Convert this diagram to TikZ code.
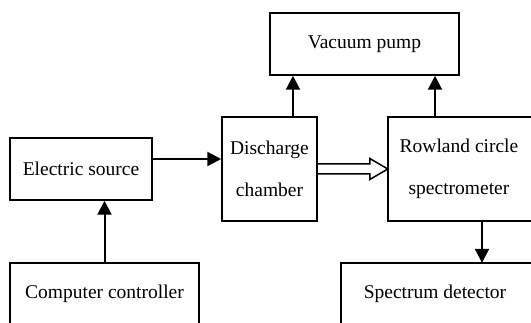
\documentclass[tikz,border=0pt]{standalone}
\usepackage{fontspec}
\setmainfont{Liberation Serif}
\usetikzlibrary{arrows.meta,calc}
\tikzset{
  box/.style={draw, line width=1.5pt, inner sep=0pt, align=center,
    font=\fontsize{19.5}{42}\selectfont},
  lbl/.style={inner sep=0pt, align=center, font=\fontsize{19.5}{42}\selectfont},
  frame/.style={line width=1.5pt},
  arr/.style={line width=2pt, -{Triangle[length=14pt,width=14pt]}},
}
\begin{document}
\begin{tikzpicture}[x=1pt,y=-1pt]
\useasboundingbox (0,0) rectangle (531,323);
\clip (0,0) rectangle (531,323);
\node[box, minimum width=189pt, minimum height=62pt] (vac) at (364.5,44) {Vacuum pump};
\node[box, minimum width=142pt, minimum height=62pt] (elec) at (81,169) {Electric source};
\node[box, minimum width=95pt, minimum height=104pt] (dis) at (269.5,169) {Discharge\\chamber};
\node[lbl, minimum width=142pt, minimum height=104pt] (row) at (459,169) {Rowland circle\\spectrometer};
\draw[frame] (row.north west) rectangle ([xshift=20pt]row.south east);
\node[box, minimum width=189pt, minimum height=62pt] (comp) at (104.5,294) {Computer controller};
\node[lbl, minimum width=188pt, minimum height=62pt] (spec) at (435,294) {Spectrum detector};
\draw[frame] (spec.north west) rectangle ([xshift=20pt]spec.south east);
% connectors
\draw[arr] ([yshift=10pt]elec.east) -- ([yshift=10pt]dis.west);
\draw[arr] (comp.north) -- (comp.north |- elec.south);
\draw[arr] ([xshift=23.5pt]dis.north) -- ([xshift=23.5pt]dis.north |- vac.south);
\draw[arr] ([xshift=-24pt]row.north) -- ([xshift=-24pt]row.north |- vac.south);
\draw[arr] ([xshift=23pt]row.south) -- ([xshift=23pt]row.south |- spec.north);
% hollow double arrow
\draw[line width=1.5pt, line join=miter]
  ([yshift=5pt]dis.east) -- ([xshift=-18pt,yshift=5pt]row.west)
  -- ([xshift=-18pt,yshift=10.5pt]row.west) -- (row.west)
  -- ([xshift=-18pt,yshift=-10.5pt]row.west) -- ([xshift=-18pt,yshift=-5pt]row.west)
  -- ([yshift=-5pt]dis.east);
\end{tikzpicture}
\end{document}
